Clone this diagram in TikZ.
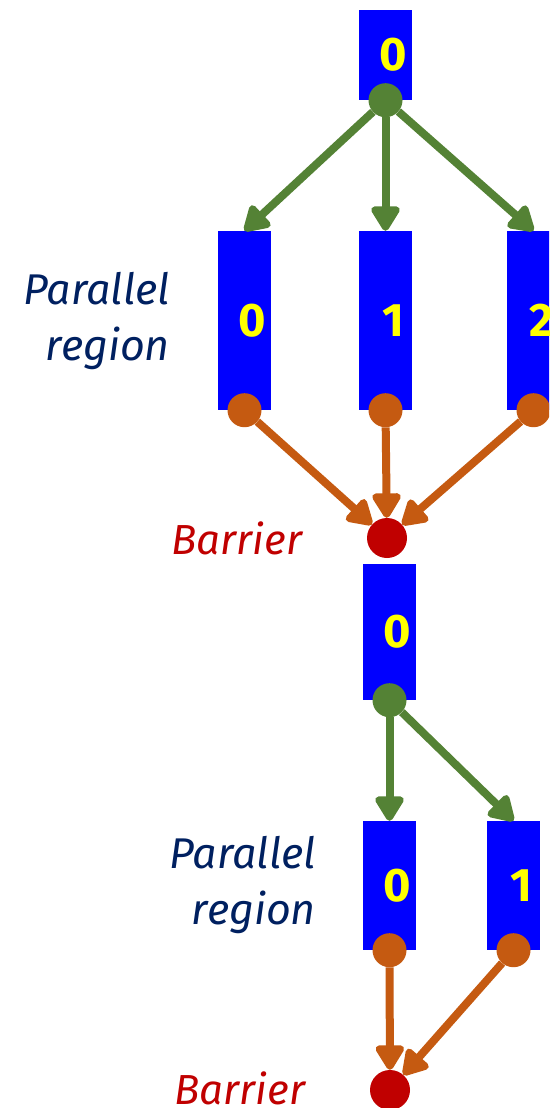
\documentclass[tikz,border=0pt]{standalone}
\usepackage{fontspec}
\setmainfont{Fira Sans}
\usepackage{xcolor}
\usepackage{tikz}
\usetikzlibrary{arrows.meta}
\definecolor{thrblue}{HTML}{0000FF}
\definecolor{idyellow}{HTML}{FFFF00}
\definecolor{forkgreen}{HTML}{548235}
\definecolor{joinorange}{HTML}{C55A11}
\definecolor{barred}{HTML}{C00000}
\definecolor{navy}{HTML}{002060}
\tikzset{
  thread/.style={fill=thrblue, minimum width=53pt, minimum height=#1, inner sep=0pt},
  tid/.style={text=idyellow, font=\fontsize{47}{47}\selectfont\bfseries, inner sep=0pt},
  forkdot/.style={circle, fill=forkgreen, minimum size=34pt, inner sep=0pt},
  joindot/.style={circle, fill=joinorange, minimum size=34pt, inner sep=0pt},
  barrierdot/.style={circle, fill=barred, minimum size=40pt, inner sep=0pt},
  forkarr/.style={draw=forkgreen, line width=8pt, -{Triangle[round,width=32pt,length=28pt]}},
  joinarr/.style={draw=joinorange, line width=8pt, -{Triangle[round,width=32pt,length=28pt]}},
  regionlab/.style={text=navy, font=\fontsize{43}{56}\selectfont\itshape, align=right, inner sep=0pt},
  barrierlab/.style={text=barred, font=\fontsize{42}{46}\selectfont\itshape, inner sep=0pt},
}

\begin{document}
\begin{tikzpicture}[x=1pt, y=-1pt]
  \useasboundingbox (0,0) rectangle (549,1108);
  \clip (0,0) rectangle (549,1108);

  % first fork: master thread and three workers
  \node[thread=90pt] (m1) at (385.5,55) {};
  \node[tid] at ([xshift=8pt]m1.center) {0};
  \node[thread=179pt] (a0) at (244.5,320.5) {};
  \node[thread=179pt] (a1) at (385.5,320.5) {};
  \node[thread=179pt] (a2) at (533.5,320.5) {};
  \node[tid] at ([xshift=8pt]a0.center) {0};
  \node[tid] at ([xshift=8pt]a1.center) {1};
  \node[tid] at ([xshift=8pt]a2.center) {2};

  \node[forkdot] (f1) at (m1.south) {};
  \node[joindot] (j0) at (a0.south) {};
  \node[joindot] (j1) at (a1.south) {};
  \node[joindot] (j2) at (a2.south) {};
  \node[barrierdot] (bar1) at (387,538) {};

  \draw[forkarr] (f1) -- (a0.north);
  \draw[forkarr] (f1) -- (a1.north);
  \draw[forkarr] (f1) -- (a2.north);
  \draw[joinarr] (j0) -- (bar1);
  \draw[joinarr] (j1) -- (bar1);
  \draw[joinarr] (j2) -- (bar1);

  \node[regionlab, anchor=east] (reg1) at (170,321) {Parallel\\region};
  \node[barrierlab] (blab1) at (237,538) {Barrier};

  % second fork: two workers
  \node[thread=136pt] (m2) at (389.5,632) {};
  \node[tid] at ([xshift=8pt]m2.center) {0};
  \node[thread=129pt] (b0) at (389.5,885.5) {};
  \node[thread=129pt] (b1) at (513.5,885.5) {};
  \node[tid] at ([xshift=8pt]b0.center) {0};
  \node[tid] at ([xshift=8pt]b1.center) {1};

  \node[forkdot] (f2) at (m2.south) {};
  \node[joindot] (k0) at (b0.south) {};
  \node[joindot] (k1) at (b1.south) {};
  \node[barrierdot] (bar2) at (390,1090) {};

  \draw[forkarr] (f2) -- (b0.north);
  \draw[forkarr] (f2) -- (b1.north);
  \draw[joinarr] (k0) -- (bar2);
  \draw[joinarr] (k1) -- (bar2);

  \node[regionlab, anchor=east] (reg2) at (316,885) {Parallel\\region};
  \node[barrierlab] (blab2) at (240,1088) {Barrier};
\end{tikzpicture}
\end{document}
